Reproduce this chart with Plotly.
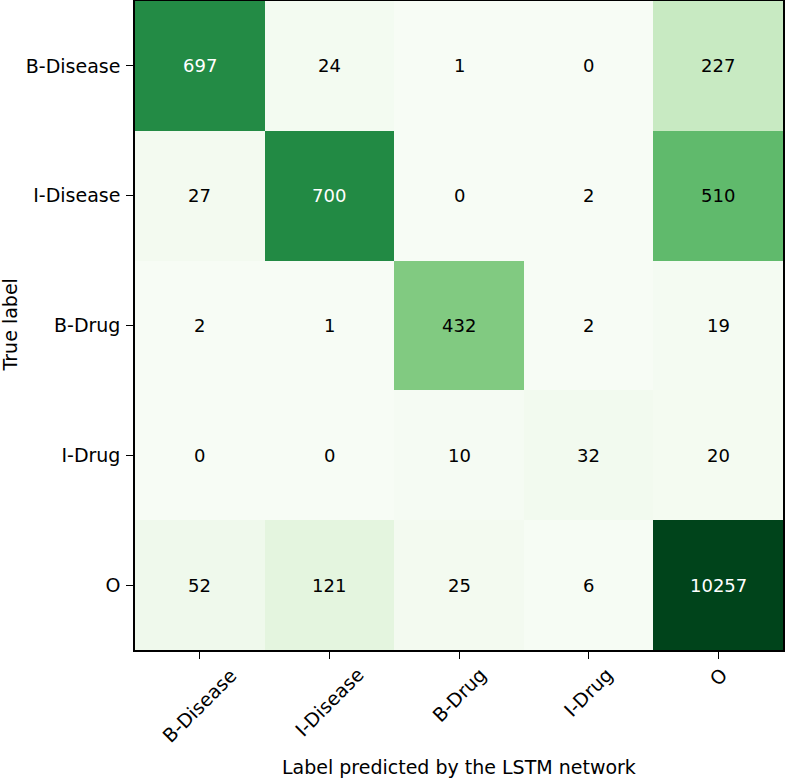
import plotly.graph_objects as go

labels = ["B-Disease", "I-Disease", "B-Drug", "I-Drug", "O"]
counts = [
    [697, 24, 1, 0, 227],
    [27, 700, 0, 2, 510],
    [2, 1, 432, 2, 19],
    [0, 0, 10, 32, 20],
    [52, 121, 25, 6, 10257],
]
color_max = 930  # colour scale saturates above this count

greens = [
    [0.0, "#f7fcf5"], [0.125, "#e5f5e0"], [0.25, "#c7e9c0"], [0.375, "#a1d99b"],
    [0.5, "#74c476"], [0.625, "#41ab5d"], [0.75, "#238b45"], [0.875, "#006d2c"],
    [1.0, "#00441b"],
]

FONT = "DejaVu Sans"

fig = go.Figure(go.Heatmap(
    z=counts, x=labels, y=labels, colorscale=greens, zmin=0, zmax=color_max,
    showscale=False, xgap=0, ygap=0, hoverinfo="skip",
))

annotations = []
for i, row in enumerate(counts):
    for j, v in enumerate(row):
        annotations.append(dict(
            x=labels[j], y=labels[i], text=str(v), showarrow=False,
            font=dict(size=18, color="white" if v > 0.6 * color_max else "black",
                      family=FONT),
        ))

# x tick labels, rotated 45 degrees and centred under their ticks
for lab in labels:
    annotations.append(dict(
        x=lab, xref="x", y=0, yref="paper", text=lab, showarrow=False,
        textangle=-45, xanchor="center", yanchor="top", yshift=-11,
        font=dict(size=19, family=FONT, color="black"),
    ))

# axis titles
annotations.append(dict(
    x=0.5, xref="paper", y=0, yref="paper", text="Label predicted by the LSTM network",
    showarrow=False, xanchor="center", yanchor="middle", yshift=-117,
    font=dict(size=19, family=FONT, color="black"),
))
annotations.append(dict(
    x=0, xref="paper", y=0.5, yref="paper", text="True label",
    showarrow=False, textangle=-90, xanchor="center", yanchor="middle", xshift=-126,
    font=dict(size=19, family=FONT, color="black"),
))

fig.update_layout(
    width=786, height=779,
    margin=dict(l=135, r=3, t=1, b=129),
    paper_bgcolor="white", plot_bgcolor="white",
    font=dict(family=FONT, size=19, color="black"),
    annotations=annotations,
    xaxis=dict(
        showticklabels=False, automargin=False,
        ticks="outside", ticklen=7, tickwidth=1.3, tickcolor="black",
        showline=True, linecolor="black", linewidth=1.5, mirror=True,
        showgrid=False, zeroline=False,
    ),
    yaxis=dict(
        automargin=False,
        autorange="reversed", ticks="outside", ticklen=7, tickwidth=1.3, tickcolor="black",
        showline=True, linecolor="black", linewidth=1.5, mirror=True,
        showgrid=False, zeroline=False, tickfont=dict(size=19, family=FONT),
        ticklabelstandoff=2,
    ),
)

fig.write_html(
    "out.html",
    config={"displayModeBar": False},
    post_script="document.body.style.margin='0px';document.body.style.overflow='hidden';",
)
